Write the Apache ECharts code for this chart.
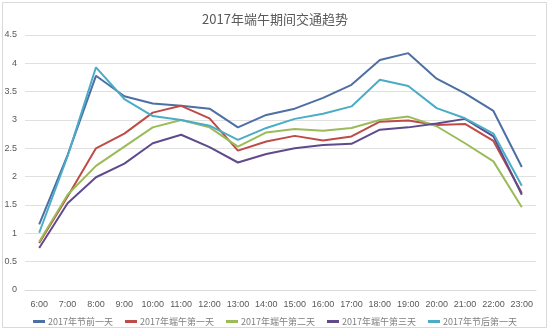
<!DOCTYPE html>
<html><head><meta charset="utf-8">
<script src="https://cdn.jsdelivr.net/npm/echarts@6/dist/echarts.min.js"></script>
<style>html,body{margin:0;padding:0;background:#fff}#c{width:550px;height:332px}</style>
</head><body><div id="c"></div>
<script>
const categories = ['6:00','7:00','8:00','9:00','10:00','11:00','12:00','13:00','14:00','15:00','16:00','17:00','18:00','19:00','20:00','21:00','22:00','23:00'];
const seriesNames = ['2017年节前一天','2017年端午第一天','2017年端午第二天','2017年端午第三天','2017年节后第一天'];
const beforeDay = [1.16,2.38,3.78,3.42,3.29,3.25,3.20,2.87,3.09,3.20,3.39,3.62,4.06,4.18,3.73,3.47,3.16,2.17];
const day1 = [0.83,1.65,2.50,2.76,3.13,3.25,3.03,2.46,2.62,2.72,2.64,2.71,2.97,2.99,2.91,2.93,2.63,1.71];
const day2 = [0.85,1.68,2.19,2.53,2.87,3.00,2.87,2.53,2.78,2.84,2.81,2.86,3.00,3.06,2.89,2.59,2.27,1.46];
const day3 = [0.74,1.53,1.99,2.23,2.59,2.74,2.52,2.25,2.40,2.50,2.56,2.58,2.83,2.87,2.94,3.02,2.71,1.68];
const afterDay = [1.01,2.36,3.93,3.37,3.07,3.00,2.90,2.65,2.86,3.02,3.11,3.24,3.71,3.60,3.21,3.03,2.76,1.84];
const yTicks = [0,0.5,1,1.5,2,2.5,3,3.5,4,4.5];
const colors = ['#4D6FA3','#BE4B48','#9BBB59','#5F4B8B','#4BACC6'];
const allData = [beforeDay, day1, day2, day3, afterDay];

const chart = echarts.init(document.getElementById('c'));
chart.setOption({
  animation: false,
  color: colors,
  title: {text: '2017年端午期间交通趋势', left: 'center', top: 8,
    textStyle: {fontSize: 13, fontWeight: 'normal', color: '#595959', fontFamily: 'Noto Sans CJK SC'}},
  graphic: [{type: 'rect', shape: {x: 2.5, y: 2.5, width: 544, height: 325},
    style: {fill: 'none', stroke: '#d9d9d9', lineWidth: 1}, silent: true}],
  legend: {top: 312, left: 'center', itemWidth: 12, itemHeight: 3, itemGap: 12, icon: 'rect',
    textStyle: {fontSize: 9, color: '#7f7f7f', fontFamily: 'Noto Sans CJK SC', padding: [0,0,0,-2]}},
  grid: {left: 25, right: 14, top: 35, bottom: 42},
  xAxis: {type: 'category', data: categories, boundaryGap: true,
    axisLine: {lineStyle: {color: '#d9d9d9'}}, axisTick: {show: false},
    axisLabel: {fontSize: 9, color: '#595959', margin: 10, interval: 0}},
  yAxis: {type: 'value', min: yTicks[0], max: yTicks[yTicks.length-1], interval: 0.5,
    axisLine: {show: false}, axisTick: {show: false},
    splitLine: {lineStyle: {color: '#e0e0e0'}},
    axisLabel: {fontSize: 9, color: '#595959', margin: 8}},
  series: allData.map((d, i) => ({
    name: seriesNames[i], type: 'line', data: d, symbol: 'none',
    lineStyle: {width: 2, color: colors[i]}, itemStyle: {color: colors[i]}
  }))
});
</script></body></html>
